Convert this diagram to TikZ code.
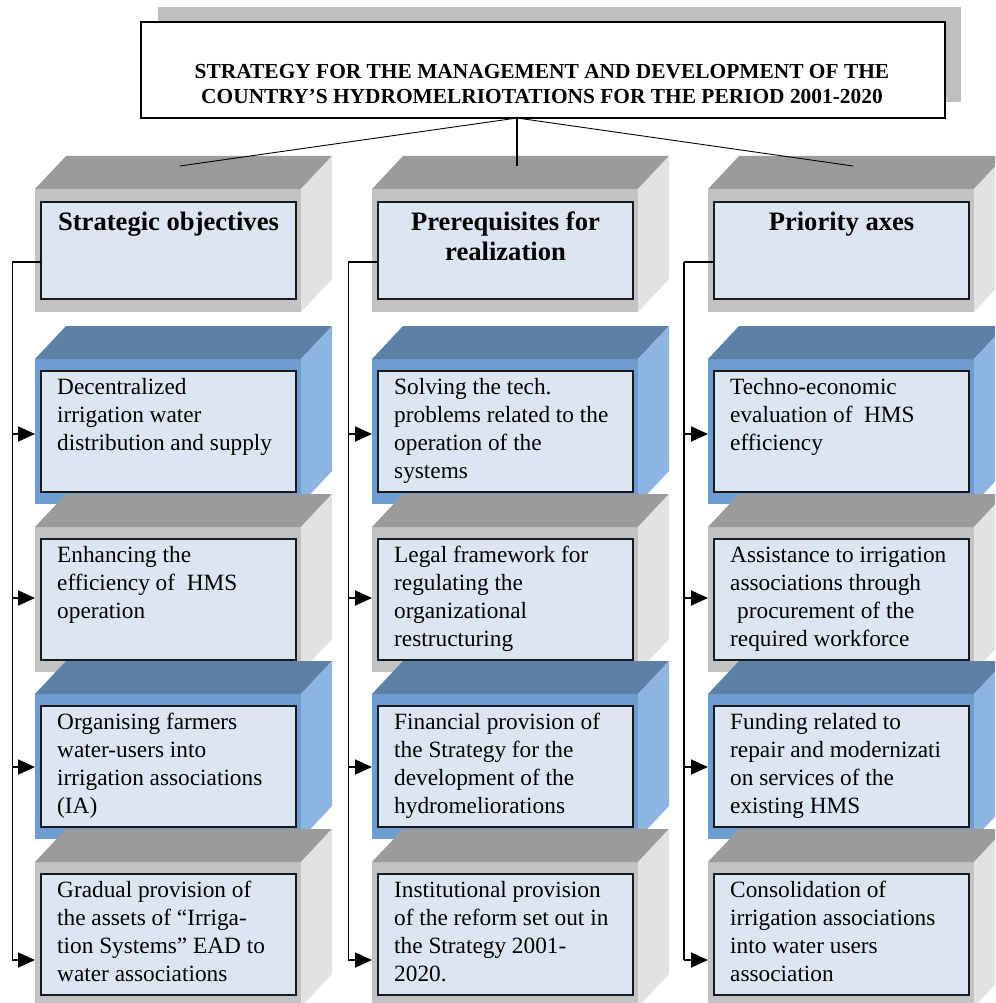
\documentclass[tikz,border=0pt]{standalone}
\usepackage{fontspec}
\setmainfont{Liberation Serif}
\usetikzlibrary{arrows.meta,calc}
\definecolor{blueTop}{HTML}{5E80A6}
\definecolor{blueFront}{HTML}{6E9DD3}
\definecolor{blueSide}{HTML}{8DB5E2}
\definecolor{grayTop}{HTML}{9B9B9B}
\definecolor{grayFront}{HTML}{C3C3C3}
\definecolor{graySide}{HTML}{E2E2E2}
\definecolor{inFill}{HTML}{DCE6F2}
\definecolor{shadowGray}{HTML}{BFBFBF}
\tikzset{
  face/.style={inner sep=0pt, outer sep=0pt, minimum width=266pt, anchor=north west},
  inbox/.style={draw=black!90, line width=1.2pt, fill=inFill, inner sep=0pt, outer sep=0pt, minimum width=255pt, anchor=north west},
  txt/.style={anchor=north west, inner sep=0pt, align=left, font=\fontsize{23.3}{28.2}\selectfont},
  hdr/.style={anchor=north, inner sep=0pt, align=center, font=\fontsize{26.6}{30}\selectfont\bfseries},
  ttl/.style={anchor=north, inner sep=0pt, align=center, font=\fontsize{21.4}{25}\selectfont\bfseries},
  titlebox/.style={draw=black, line width=2pt, fill=white, inner sep=0pt, outer sep=0pt, minimum width=804pt, minimum height=96pt, anchor=north west},
  arr/.style={line width=1.8pt, -{Triangle[length=17pt,width=15pt]}},
  stub/.style={line width=1.8pt},
  vthin/.style={line width=0.9pt},
  vthick/.style={line width=1.8pt},
  thinlink/.style={line width=0.9pt},
  thicklink/.style={line width=2pt}
}
\newcommand\drawcube[4]{%
  \node[face, minimum height=#3, fill=#4Front] (#1) at (#2) {};
  \fill[#4Top] (#1.north west) -- (#1.north east) -- ([shift={(31pt,33pt)}]#1.north east) -- ([shift={(31pt,33pt)}]#1.north west) -- cycle;
  \fill[#4Side] (#1.north east) -- ([shift={(31pt,33pt)}]#1.north east) -- ([shift={(31pt,33pt)}]#1.south east) -- (#1.south east) -- cycle;
}
\begin{document}
\begin{tikzpicture}[x=1pt,y=-1pt]
\useasboundingbox (0,0) rectangle (995,1003);
\clip (0,0) rectangle (995,1003);
\fill[white] (0,0) rectangle (995,1003);

% title
\fill[shadowGray] (158,7) rectangle (961,102);
\node[titlebox] (title) at (141,22) {};
\node[ttl] (titletext) at (542,60.5) {\strut STRATEGY FOR THE MANAGEMENT AND DEVELOPMENT OF THE\\COUNTRY’S HYDROMELRIOTATIONS FOR THE PERIOD 2001-2020};

% headers
\drawcube{h1}{35,189}{123pt}{gray}
\node[inbox, minimum height=97pt] (ih1) at ([shift={(6pt,-13pt)}]h1.north west) {};
\node[hdr] (th1) at ([yshift=-7pt]ih1.north) {\strut Strategic objectives};
\drawcube{h2}{372,189}{123pt}{gray}
\node[inbox, minimum height=97pt] (ih2) at ([shift={(6pt,-13pt)}]h2.north west) {};
\node[hdr] (th2) at ([yshift=-7pt]ih2.north) {\strut Prerequisites for\\realization};
\drawcube{h3}{708,189}{123pt}{gray}
\node[inbox, minimum height=97pt] (ih3) at ([shift={(6pt,-13pt)}]h3.north west) {};
\node[hdr] (th3) at ([yshift=-7pt]ih3.north) {\strut Priority axes};

% row 1
\drawcube{f11}{35,359}{145pt}{blue}
\node[inbox, minimum height=121pt] (i11) at ([shift={(6pt,-12pt)}]f11.north west) {};
\node[txt] (t11) at ([shift={(16pt,-3.3pt)}]i11.north west) {\strut Decentralized\\irrigation water\\distribution and supply};
\drawcube{f21}{372,359}{145pt}{blue}
\node[inbox, minimum height=121pt] (i21) at ([shift={(6pt,-12pt)}]f21.north west) {};
\node[txt] (t21) at ([shift={(16pt,-3.3pt)}]i21.north west) {\strut Solving the tech.\\problems related to the\\operation of the\\systems};
\drawcube{f31}{708,359}{145pt}{blue}
\node[inbox, minimum height=121pt] (i31) at ([shift={(6pt,-12pt)}]f31.north west) {};
\node[txt] (t31) at ([shift={(16pt,-3.3pt)}]i31.north west) {\strut Techno-economic\\evaluation of\ \ HMS\\efficiency};

% row 2
\drawcube{f12}{35,527}{145pt}{gray}
\node[inbox, minimum height=121pt] (i12) at ([shift={(6pt,-12pt)}]f12.north west) {};
\node[txt] (t12) at ([shift={(16pt,-3.3pt)}]i12.north west) {\strut Enhancing the\\efficiency of\ \ HMS\\operation};
\drawcube{f22}{372,527}{145pt}{gray}
\node[inbox, minimum height=121pt] (i22) at ([shift={(6pt,-12pt)}]f22.north west) {};
\node[txt] (t22) at ([shift={(16pt,-3.3pt)}]i22.north west) {\strut Legal framework for\\regulating the\\organizational\\restructuring};
\drawcube{f32}{708,527}{145pt}{gray}
\node[inbox, minimum height=121pt] (i32) at ([shift={(6pt,-12pt)}]f32.north west) {};
\node[txt] (t32) at ([shift={(16pt,-3.3pt)}]i32.north west) {\strut Assistance to irrigation\\associations through\\\hspace*{0.3em}procurement of the\\required workforce};

% row 3
\drawcube{f13}{35,694}{145pt}{blue}
\node[inbox, minimum height=121pt] (i13) at ([shift={(6pt,-12pt)}]f13.north west) {};
\node[txt] (t13) at ([shift={(16pt,-3.3pt)}]i13.north west) {\strut Organising farmers\\water-users into\\irrigation associations\\(IA)};
\drawcube{f23}{372,694}{145pt}{blue}
\node[inbox, minimum height=121pt] (i23) at ([shift={(6pt,-12pt)}]f23.north west) {};
\node[txt] (t23) at ([shift={(16pt,-3.3pt)}]i23.north west) {\strut Financial provision of\\the Strategy for the\\development of the\\hydromeliorations};
\drawcube{f33}{708,694}{145pt}{blue}
\node[inbox, minimum height=121pt] (i33) at ([shift={(6pt,-12pt)}]f33.north west) {};
\node[txt] (t33) at ([shift={(16pt,-3.3pt)}]i33.north west) {\strut Funding related to\\repair and modernizati\\on services of the\\existing HMS};

% row 4
\drawcube{f14}{35,862}{145pt}{gray}
\node[inbox, minimum height=121pt] (i14) at ([shift={(6pt,-12pt)}]f14.north west) {};
\node[txt] (t14) at ([shift={(16pt,-3.3pt)}]i14.north west) {\strut Gradual provision of\\the assets of “Irriga-\\tion Systems” EAD to\\water associations};
\drawcube{f24}{372,862}{145pt}{gray}
\node[inbox, minimum height=121pt] (i24) at ([shift={(6pt,-12pt)}]f24.north west) {};
\node[txt] (t24) at ([shift={(16pt,-3.3pt)}]i24.north west) {\strut Institutional provision\\of the reform set out in\\the Strategy 2001-\\2020.};
\drawcube{f34}{708,862}{145pt}{gray}
\node[inbox, minimum height=121pt] (i34) at ([shift={(6pt,-12pt)}]f34.north west) {};
\node[txt] (t34) at ([shift={(16pt,-3.3pt)}]i34.north west) {\strut Consolidation of\\irrigation associations\\into water users\\association};

% title connectors
\coordinate (ts) at (517,118);
\coordinate (tp1) at (180,166);
\coordinate (tp2) at (517,166);
\coordinate (tp3) at (853,166);
\draw[thicklink] (ts) -- (tp2);
\draw[thinlink] (ts) -- (tp1);
\draw[thinlink] (ts) -- (tp3);

% brackets
\foreach \c/\vx/\sty in {1/12/vthin, 2/348/vthin, 3/684/vthick}{
  \coordinate (k\c) at (\vx,262);
  \coordinate (a\c1) at (\vx,434);
  \coordinate (a\c2) at (\vx,598);
  \coordinate (a\c3) at (\vx,767);
  \coordinate (a\c4) at (\vx,960);
  \draw[stub] (ih\c.west |- k\c) -- (k\c);
  \draw[\sty] (k\c) -- (a\c4);
  \draw[arr] (a\c1) -- (a\c1 -| f\c1.west);
  \draw[arr] (a\c2) -- (a\c2 -| f\c2.west);
  \draw[arr] (a\c3) -- (a\c3 -| f\c3.west);
  \draw[arr] (a\c4) -- (a\c4 -| f\c4.west);
}
\end{tikzpicture}
\end{document}
